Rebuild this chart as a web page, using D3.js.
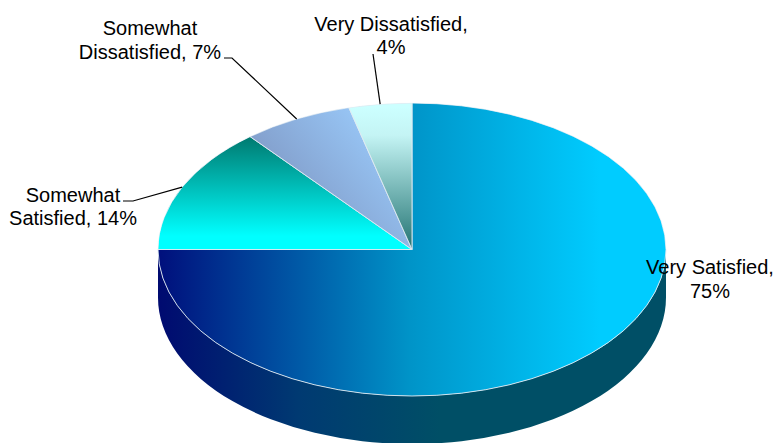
<!DOCTYPE html>
<html><head><meta charset="utf-8">
<script src="https://cdn.jsdelivr.net/npm/d3@7/dist/d3.min.js"></script>
<style>html,body{margin:0;padding:0;background:#fff}svg{display:block}text{font-family:"Liberation Sans",Arial,sans-serif;font-size:20px;fill:#000;text-anchor:middle}</style>
</head><body><svg id="c" width="778" height="443"></svg>
<script>
const categories = ["Very Satisfied","Somewhat Satisfied","Somewhat Dissatisfied","Very Dissatisfied"];
const values = [75,14,7,4];
const labelLines = [["Very Satisfied,","75%"],["Somewhat","Satisfied, 14%"],["Somewhat","Dissatisfied, 7%"],["Very Dissatisfied,","4%"]];

const W=778,H=443,cx=412,cy=249.5,rx=254,ry=146.5,depth=48;
const svg=d3.select("#c");
const defs=svg.append("defs");
function grad(id,x1,y1,x2,y2,stops){
  const g=defs.append("linearGradient").attr("id",id).attr("gradientUnits","userSpaceOnUse")
    .attr("x1",x1).attr("y1",y1).attr("x2",x2).attr("y2",y2);
  stops.forEach(s=>g.append("stop").attr("offset",s[0]).attr("stop-color",s[1]));
}
grad("g0",158,0,600,0,[[0,"#000f7c"],[0.57,"#0094c8"],[1,"#00ccff"]]);
grad("g1",0,137,0,236,[[0,"#007a70"],[1,"#00ffff"]]);
grad("g2",265,190,365,110,[[0,"#7f98c4"],[1,"#99c8f8"]]);
grad("g3",0,107,0,249,[[0,"#ccffff"],[0.2,"#c4f4f4"],[1,"#237473"]]);
grad("side",158,0,440,0,[[0,"#000a70"],[0.5,"#003a72"],[1,"#004f66"]]);

const x=a=>cx+rx*Math.sin(a), y=a=>cy-ry*Math.cos(a);
const pie=d3.pie().sort(null).value(d=>d)(values);

// extruded wall
svg.append("path").attr("fill","url(#side)")
  .attr("d",`M${cx-rx},${cy}L${cx-rx},${cy+depth}A${rx},${ry} 0 0 0 ${cx+rx},${cy+depth}L${cx+rx},${cy}A${rx},${ry} 0 0 1 ${cx-rx},${cy}Z`);

// top faces
svg.selectAll("path.slice").data(pie).join("path").attr("class","slice")
  .attr("fill",(d,i)=>`url(#g${i})`)
  .attr("stroke","#dfeaf2").attr("stroke-width",0.9).attr("stroke-linejoin","round")
  .attr("d",d=>{
    const large=d.endAngle-d.startAngle>Math.PI?1:0;
    return `M${cx},${cy}L${x(d.startAngle)},${y(d.startAngle)}A${rx},${ry} 0 ${large} 1 ${x(d.endAngle)},${y(d.endAngle)}Z`;
  });
// no visible rim stroke on the upper edge: repaint it in the background colour outside
svg.append("path").attr("fill","none").attr("stroke","#fff").attr("stroke-width",1)
  .attr("d",`M${cx-rx-0.7},${cy}A${rx+0.7},${ry+0.7} 0 0 1 ${cx+rx+0.7},${cy}`);

// leaders: rim anchor at each slice's mid angle
const elbows=[null,[[123,201],[133,201]],[[224,58],[232,58]],[[373,54]]];
const line=d3.line();
pie.forEach((d,i)=>{
  if(!elbows[i])return;
  const m=(d.startAngle+d.endAngle)/2;
  svg.append("path").attr("fill","none").attr("stroke","#000").attr("stroke-width",1.2)
    .attr("d",line([...elbows[i],[x(m),y(m)]]));
});

// labels
const labelPos=[[710,274],[73,202],[150,35],[391,31]];
const lh=[24,23,24,23];
labelLines.forEach((ls,i)=>{
  const t=svg.append("text").attr("x",labelPos[i][0]).attr("y",labelPos[i][1]);
  ls.forEach((s,k)=>t.append("tspan").attr("x",labelPos[i][0]).attr("dy",k?lh[i]:0).text(s));
});
</script></body></html>
